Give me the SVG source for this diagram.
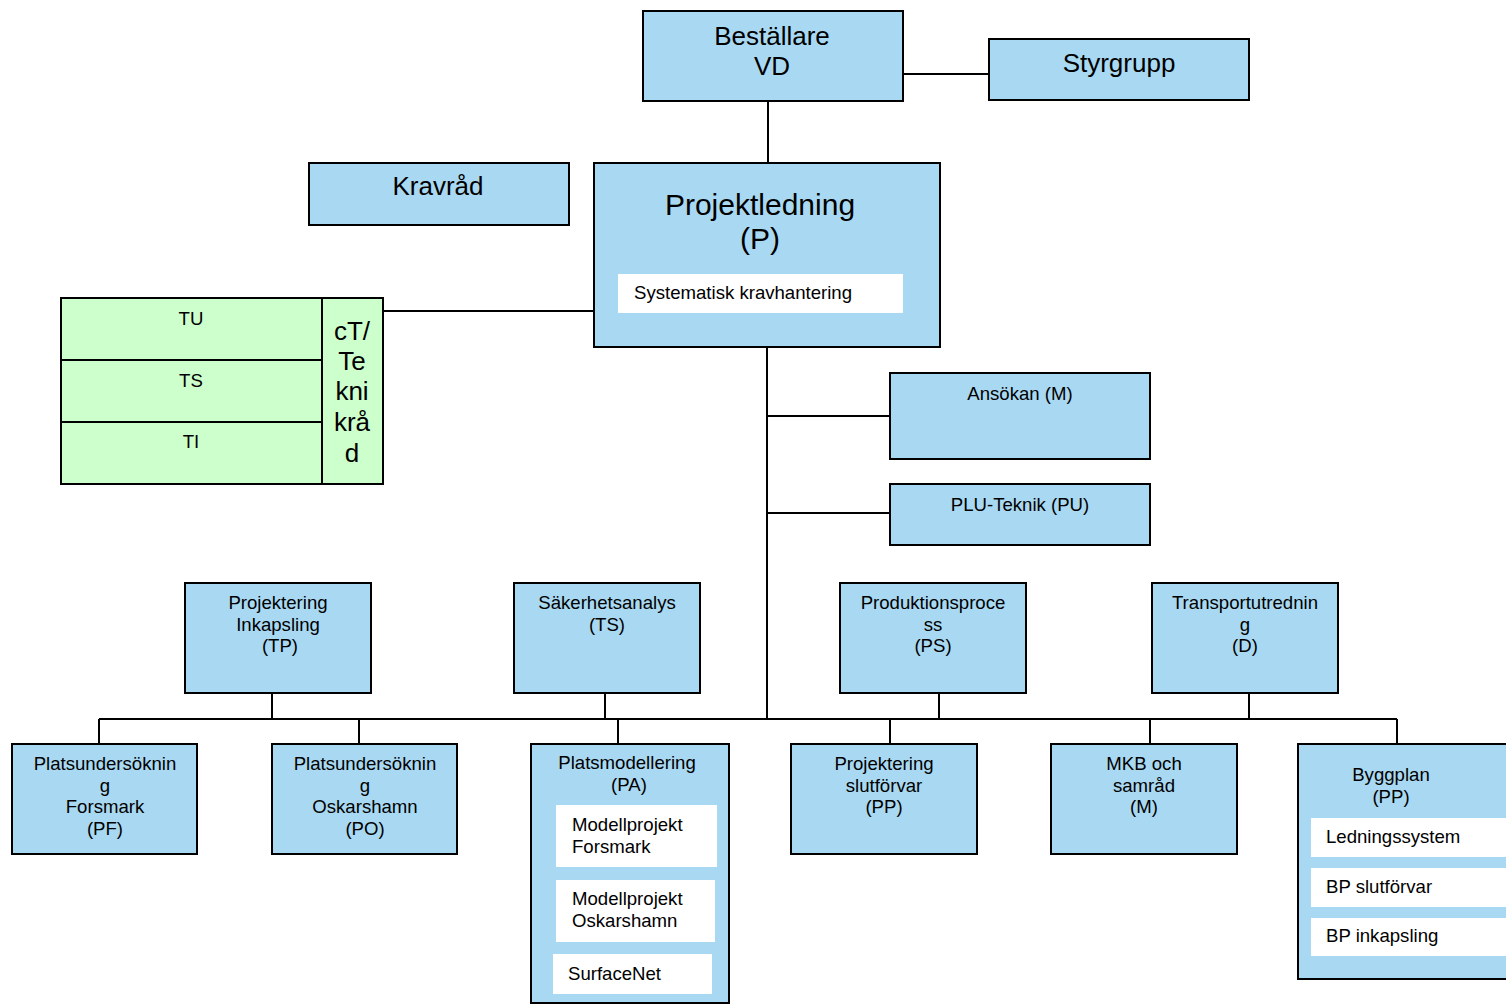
<svg xmlns="http://www.w3.org/2000/svg" width="1506" height="1005" viewBox="0 0 1506 1005">
<style>
.b{fill:#A9D9F2;stroke:#000;stroke-width:2}
.g{fill:#CCFFCC;stroke:#000;stroke-width:2}
.w{fill:#fff;stroke:none}
.c{fill:none;stroke:#000;stroke-width:2}
text{font-family:"Liberation Sans",Arial,sans-serif;fill:#000}
.t26{font-size:26px;text-anchor:middle}
.t30{font-size:30px;text-anchor:middle}
.t18{font-size:18.6px;text-anchor:middle}
.l18{font-size:18.6px}
</style>
<rect width="1506" height="1005" fill="#fff"/>
<g id="connectors">
<path class="c" d="M903 74H989"/>
<path class="c" d="M768 101V163"/>
<path class="c" d="M383 311H594"/>
<path class="c" d="M767 347V719"/>
<path class="c" d="M767 416H890"/>
<path class="c" d="M767 513H890"/>
<path class="c" d="M99 719H1397"/>
<path class="c" d="M272 693V719M605 693V719M939 693V719M1249 693V719"/>
<path class="c" d="M99 719V744M359 719V744M618 719V744M890 719V744M1150 719V744M1397 719V744"/>
</g>
<g id="bestallare">
<rect class="b" x="643" y="11" width="260" height="90"/>
<text class="t26" x="772" y="45">Beställare</text>
<text class="t26" x="772" y="75">VD</text>
</g>
<g id="styrgrupp">
<rect class="b" x="989" y="39" width="260" height="61"/>
<text class="t26" x="1119" y="72">Styrgrupp</text>
</g>
<g id="kravrad">
<rect class="b" x="309" y="163" width="260" height="62"/>
<text class="t26" x="438" y="195">Kravråd</text>
</g>
<g id="projektledning">
<rect class="b" x="594" y="163" width="346" height="184"/>
<text class="t30" x="760" y="215">Projektledning</text>
<text class="t30" x="760" y="249">(P)</text>
<rect class="w" x="618" y="274" width="285" height="39"/>
<text class="l18" x="634" y="299">Systematisk kravhantering</text>
</g>
<g id="tekniskt-krad">
<rect class="g" x="61" y="298" width="322" height="186"/>
<path class="c" d="M322 298V484M61 360H322M61 422H322"/>
<text class="t18" x="191" y="325">TU</text>
<text class="t18" x="191" y="387">TS</text>
<text class="t18" x="191" y="448">TI</text>
<text class="t26" x="352" y="340">cT/</text>
<text class="t26" x="352" y="370">Te</text>
<text class="t26" x="352" y="400">kni</text>
<text class="t26" x="352" y="431">krå</text>
<text class="t26" x="352" y="462">d</text>
</g>
<g id="ansokan">
<rect class="b" x="890" y="373" width="260" height="86"/>
<text class="t18" x="1020" y="400">Ansökan (M)</text>
</g>
<g id="plu-teknik">
<rect class="b" x="890" y="484" width="260" height="61"/>
<text class="t18" x="1020" y="511">PLU-Teknik (PU)</text>
</g>
<g id="tp">
<rect class="b" x="185" y="583" width="186" height="110"/>
<text class="t18" x="278" y="609">Projektering</text>
<text class="t18" x="278" y="631">Inkapsling</text>
<text class="t18" x="280" y="652">(TP)</text>
</g>
<g id="ts">
<rect class="b" x="514" y="583" width="186" height="110"/>
<text class="t18" x="607" y="609">Säkerhetsanalys</text>
<text class="t18" x="607" y="631">(TS)</text>
</g>
<g id="ps">
<rect class="b" x="840" y="583" width="186" height="110"/>
<text class="t18" x="933" y="609">Produktionsproce</text>
<text class="t18" x="933" y="631">ss</text>
<text class="t18" x="933" y="652">(PS)</text>
</g>
<g id="d">
<rect class="b" x="1152" y="583" width="186" height="110"/>
<text class="t18" x="1245" y="609">Transportutrednin</text>
<text class="t18" x="1245" y="631">g</text>
<text class="t18" x="1245" y="652">(D)</text>
</g>
<g id="pf">
<rect class="b" x="12" y="744" width="185" height="110"/>
<text class="t18" x="105" y="770">Platsundersöknin</text>
<text class="t18" x="105" y="792">g</text>
<text class="t18" x="105" y="813">Forsmark</text>
<text class="t18" x="105" y="835">(PF)</text>
</g>
<g id="po">
<rect class="b" x="272" y="744" width="185" height="110"/>
<text class="t18" x="365" y="770">Platsundersöknin</text>
<text class="t18" x="365" y="792">g</text>
<text class="t18" x="365" y="813">Oskarshamn</text>
<text class="t18" x="365" y="835">(PO)</text>
</g>
<g id="pa">
<rect class="b" x="531" y="744" width="198" height="259"/>
<text class="t18" x="627" y="769">Platsmodellering</text>
<text class="t18" x="629" y="791">(PA)</text>
<rect class="w" x="556" y="805" width="161" height="62"/>
<text class="l18" x="572" y="831">Modellprojekt</text>
<text class="l18" x="572" y="853">Forsmark</text>
<rect class="w" x="556" y="880" width="159" height="62"/>
<text class="l18" x="572" y="905">Modellprojekt</text>
<text class="l18" x="572" y="927">Oskarshamn</text>
<rect class="w" x="553" y="954" width="159" height="40"/>
<text class="l18" x="568" y="980">SurfaceNet</text>
</g>
<g id="pp">
<rect class="b" x="791" y="744" width="186" height="110"/>
<text class="t18" x="884" y="770">Projektering</text>
<text class="t18" x="884" y="792">slutförvar</text>
<text class="t18" x="884" y="813">(PP)</text>
</g>
<g id="m">
<rect class="b" x="1051" y="744" width="186" height="110"/>
<text class="t18" x="1144" y="770">MKB och</text>
<text class="t18" x="1144" y="792">samråd</text>
<text class="t18" x="1144" y="813">(M)</text>
</g>
<g id="byggplan">
<rect class="b" x="1298" y="744" width="220" height="235"/>
<text class="t18" x="1391" y="781">Byggplan</text>
<text class="t18" x="1391" y="803">(PP)</text>
<rect class="w" x="1311" y="818" width="200" height="39"/>
<text class="l18" x="1326" y="843">Ledningssystem</text>
<rect class="w" x="1311" y="868" width="200" height="39"/>
<text class="l18" x="1326" y="893">BP slutförvar</text>
<rect class="w" x="1311" y="918" width="200" height="38"/>
<text class="l18" x="1326" y="942">BP inkapsling</text>
</g>
</svg>
